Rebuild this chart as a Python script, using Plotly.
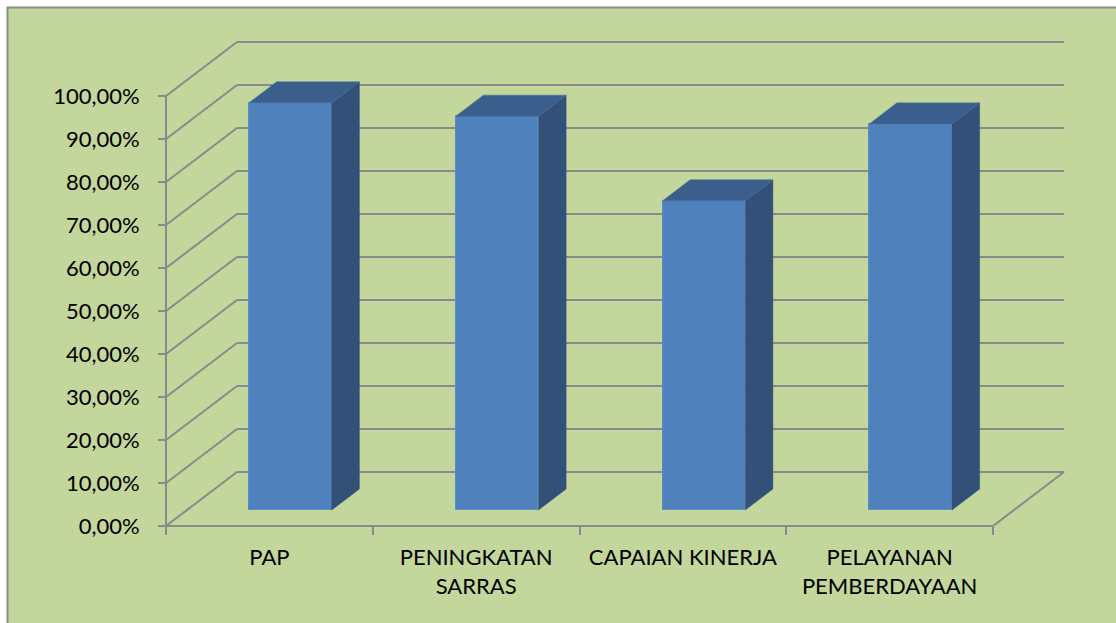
import plotly.graph_objects as go

# ---- data ----
categories = ["PAP", "PENINGKATAN<br>SARRAS", "CAPAIAN KINERJA", "PELAYANAN<br>PEMBERDAYAAN"]
values = [94.7, 91.6, 71.9, 89.8]          # percent
y_ticks = [0, 10, 20, 30, 40, 50, 60, 70, 80, 90, 100]
y_tick_labels = ["0,00%", "10,00%", "20,00%", "30,00%", "40,00%", "50,00%",
                 "60,00%", "70,00%", "80,00%", "90,00%", "100,00%"]

# ---- layout / projection constants ----
W, H = 1116, 623
X0_PX, Y0_PX = 166, 526          # front-left origin of the 3D box (pixels)
PX_PER_CAT, PX_PER_PCT = 206.75, 4.3
DEPTH_DX = 71 / PX_PER_CAT       # oblique depth offset, category units
DEPTH_DY = 54 / PX_PER_PCT       # oblique depth offset, percent units
BAR_W = 0.40
BAR_FRONT, BAR_BACK = 0.296, 0.685   # bar position within depth (fractions)

GRID = "#8a8a8a"
BG = "#C3D69B"
FRONT = "#4F81BD"
SIDE = "#325078"
TOP = "#3B5F8D"
FONT = "Lato"

n = len(categories)
x_lo = -0.5 - X0_PX / PX_PER_CAT
x_hi = -0.5 + (W - X0_PX) / PX_PER_CAT
y_lo = -(H - Y0_PX) / PX_PER_PCT
y_hi = Y0_PX / PX_PER_PCT
left, right = -0.5, n - 0.5

fig = go.Figure()

shapes = []
# chart background frame
shapes.append(dict(type="rect", xref="paper", yref="paper",
                   x0=7.5 / W, x1=1.02, y0=-0.02, y1=1 - 7.5 / H,
                   fillcolor=BG, line=dict(color="#8c8c8c", width=2), layer="below"))


def seg(x0, y0, x1, y1):
    shapes.append(dict(type="line", xref="x", yref="y", x0=x0, y0=y0, x1=x1, y1=y1,
                       line=dict(color=GRID, width=2), layer="below"))


# gridlines on side & back walls
for t in y_ticks:
    seg(left, t, left + DEPTH_DX, t + DEPTH_DY)
    seg(left + DEPTH_DX, t + DEPTH_DY, right + DEPTH_DX, t + DEPTH_DY)
# floor edges and value axis line
seg(left, 0, right, 0)
seg(right, 0, right + DEPTH_DX, DEPTH_DY)
seg(left, 0, left, y_ticks[-1])

# bar front faces
xs = [i + BAR_FRONT * DEPTH_DX for i in range(n)]
fig.add_trace(go.Bar(x=xs, y=values, base=[BAR_FRONT * DEPTH_DY] * n, width=BAR_W,
                     marker=dict(color=FRONT, line=dict(color="#5a8cc6", width=1)),
                     hoverinfo="skip", showlegend=False))

ddx = (BAR_BACK - BAR_FRONT) * DEPTH_DX
ddy = (BAR_BACK - BAR_FRONT) * DEPTH_DY
for i, v in enumerate(values):
    xl = xs[i] - BAR_W / 2
    xr = xs[i] + BAR_W / 2
    yb = BAR_FRONT * DEPTH_DY
    yt = yb + v
    # side face
    fig.add_trace(go.Scatter(x=[xr, xr + ddx, xr + ddx, xr, xr],
                             y=[yb, yb + ddy, yt + ddy, yt, yb],
                             mode="lines", fill="toself", fillcolor=SIDE,
                             line=dict(color=SIDE, width=0.5),
                             hoverinfo="skip", showlegend=False))
    # top face
    fig.add_trace(go.Scatter(x=[xl, xr, xr + ddx, xl + ddx, xl],
                             y=[yt, yt, yt + ddy, yt + ddy, yt],
                             mode="lines", fill="toself", fillcolor=TOP,
                             line=dict(color="#4a6f9c", width=0.5),
                             hoverinfo="skip", showlegend=False))

fig.update_layout(
    width=W, height=H,
    margin=dict(l=0, r=0, t=0, b=0, pad=0),
    paper_bgcolor="white", plot_bgcolor="rgba(0,0,0,0)",
    shapes=shapes,
    bargap=0,
    font=dict(family=FONT, size=22, color="black"),
    xaxis=dict(range=[x_lo, x_hi], domain=[0, 1], anchor="free", position=(H - Y0_PX) / H,
               showgrid=False, zeroline=False, showline=False,
               tickmode="array", tickvals=list(range(n)), ticktext=categories,
               ticks="", ticklabelstandoff=16, automargin=False,
               minor=dict(tickmode="array", tickvals=[k - 0.5 for k in range(n + 1)],
                          ticks="outside", ticklen=8, tickwidth=2, tickcolor=GRID,
                          showgrid=False),
               fixedrange=True),
    yaxis=dict(range=[y_lo, y_hi], domain=[0, 1], anchor="free", position=X0_PX / W,
               showgrid=False, zeroline=False, showline=False,
               tickmode="array", tickvals=y_ticks, ticktext=y_tick_labels,
               ticks="outside", ticklen=8, tickwidth=2, tickcolor=GRID,
               ticklabelstandoff=14, automargin=False, fixedrange=True),
)

fig.write_html("out.html", config={"displayModeBar": False},
               post_script="document.body.style.margin='0px';document.body.style.overflow='hidden';")
